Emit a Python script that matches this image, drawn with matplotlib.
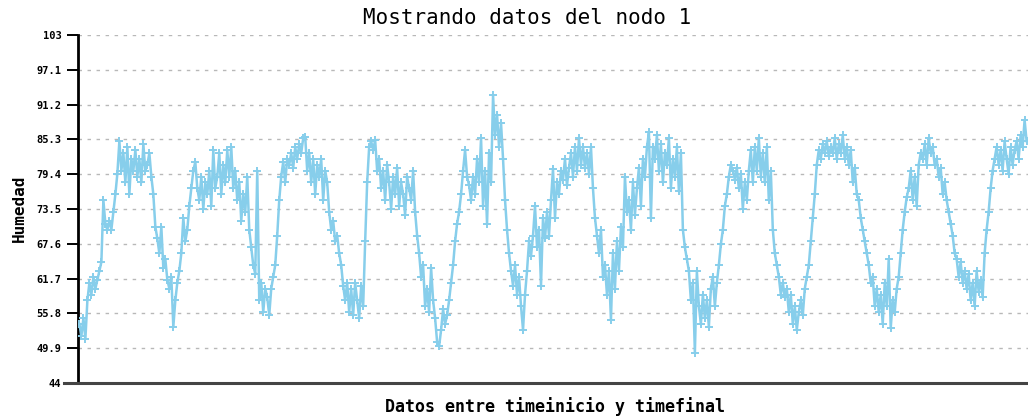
import matplotlib
matplotlib.use("Agg")
import matplotlib.pyplot as plt
import numpy as np

# Humidity readings, in order
seg1 = [54, 52, 55, 51.5, 58, 61, 59, 62, 60, 61.5, 63, 64.5, 75, 71, 70,
        71.5, 70, 73, 76, 79.5, 85, 80, 83, 78, 84, 76, 82, 80, 83.5, 79,
        82, 78, 84.5, 80, 81, 83, 79, 76, 70.5, 68.5, 66, 70.5, 63.5, 65, 61.5,
        60, 62, 53.5, 58, 61, 63, 66, 72, 68, 70]
seg2 = [74, 77, 80, 81.5, 77, 75, 79, 73.5, 78, 76, 80, 74, 83.5, 77, 79,
        83, 76, 81, 78, 83.5, 79, 84, 77, 80, 75, 78, 71.5, 76, 73, 79,
        70, 67, 64, 62.5, 80, 58, 61, 56, 60, 58.5, 55.5, 60, 62, 64, 69]
seg3 = [75, 79, 81.5, 78, 82, 81, 83, 80.5, 84, 82, 84.5, 83, 85.5, 85.7, 80,
        83, 78, 82, 76, 81, 79, 82, 75, 80, 78, 73, 70, 71.5, 68, 69,
        66, 64, 60.5, 58, 61, 56, 60, 55.5, 61, 58, 55, 60.5, 57, 68, 78]
seg4 = [84, 85, 83.5, 85.2, 80, 82, 77, 80, 75, 81, 78, 73.5, 79, 76, 80.5,
        74, 78, 76, 72.5, 79, 77, 75, 80, 73, 69, 66, 62, 64, 57, 60,
        56, 63.5, 58, 55, 51, 50.2, 53, 56.5, 54, 55.5, 58, 61, 64, 68, 71]
seg5 = [73, 76, 80, 83.5, 79, 77.5, 75, 79, 76, 82, 78, 85.5, 74, 80, 71,
        83, 78, 92.8, 86, 89.5, 84, 88, 82, 75, 70, 66, 63, 60.5, 64, 59,
        62, 57, 53, 59, 63, 68, 65.5, 69, 74, 67, 70, 60.5, 72, 68.5, 73]
seg6 = [69, 75, 80.3, 72, 78, 76, 80, 78.5, 82, 77.5, 80.5, 83, 79, 84, 80,
        85.5, 81, 84, 80.5, 83, 79.5, 84, 77, 72, 69, 66, 70, 62, 64, 59,
        63, 54.7, 66, 60, 68, 63, 70.5, 67, 79, 73, 75, 70, 78, 72.5, 77]
seg7 = [80.5, 74, 82, 79, 84, 86.5, 72, 84, 82, 86, 80, 84.5, 78, 83, 81,
        85.5, 77, 82, 79, 84, 76.5, 83, 70, 67, 65, 63, 58, 61, 49.1, 63,
        57, 54, 59, 55, 58, 53.5, 60, 62, 57, 61, 64, 67.5, 70, 74, 76]
seg8 = [79, 81, 80, 78.5, 80.5, 77, 79.5, 73.5, 78, 75, 80, 83.5, 78, 84, 80,
        85.5, 79, 83, 78, 84, 75, 80, 70, 66, 64, 62, 59, 61, 58.5, 60,
        56, 59, 54, 57, 53, 56, 58, 55.5, 60, 62, 64, 68, 72, 76, 81]
seg9 = [83.5, 82, 84.5, 83, 85, 82.5, 84, 83, 85.5, 82, 84.5, 83, 86, 82, 84,
        81, 83.5, 78, 80.5, 76, 75, 72, 70, 68, 66, 64, 61, 62, 57, 60,
        56, 59, 54, 61, 57, 65, 53.3, 58, 56, 60, 62, 66, 70, 73, 75.5]
seg10 = [77, 80, 75, 79, 74, 81, 83, 82, 84.5, 81, 85.5, 83, 84, 81, 82,
         79, 80.5, 76, 78, 75, 73, 71, 69, 66, 65, 62, 64.5, 61, 63, 60,
         62.5, 58, 61, 57, 63, 59.5, 61.5, 58.5, 66, 70, 73, 77, 80, 82, 84]
seg11 = [81, 83.5, 80, 85, 82, 79.5, 84, 81, 83.5, 85, 82, 86, 84, 88.6, 85]

humedad = seg1 + seg2 + seg3 + seg4 + seg5 + seg6 + seg7 + seg8 + seg9 + seg10 + seg11
y_ticks = [44, 49.9, 55.8, 61.7, 67.6, 73.5, 79.4, 85.3, 91.2, 97.1, 103]
y_tick_labels = ["44", "49.9", "55.8", "61.7", "67.6", "73.5", "79.4",
                 "85.3", "91.2", "97.1", "103"]

W, H = 1028, 418
fig = plt.figure(figsize=(W / 100, H / 100), dpi=100)
ax = fig.add_axes([78 / W, 1 - 383 / H, 1 - 78 / W, (383 - 35) / H])

x = np.arange(len(humedad))
ax.plot(x, humedad, color="#87CEEB", linewidth=1.8, marker="+",
        markersize=5.5, markeredgewidth=1.4, zorder=3)

ax.set_xlim(-0.7, len(humedad) - 0.3)
ax.set_ylim(44, 103)
ax.set_yticks(y_ticks)
ax.set_yticklabels(y_tick_labels, fontfamily="DejaVu Sans Mono",
                   fontweight="bold", fontsize=7.5)
ax.set_xticks([])
ax.tick_params(axis="y", direction="out", length=8, width=1.4, pad=4, color="black")

for t in y_ticks:
    ax.axhline(t, color="#b8b8b8", linewidth=1.0, linestyle=(0, (2.5, 4)), zorder=1)

for s in ["top", "right"]:
    ax.spines[s].set_visible(False)
ax.spines["left"].set_linewidth(2)
ax.spines["left"].set_color("black")
ax.spines["bottom"].set_visible(False)
# bottom axis line (extends slightly left of the y axis, as in the reference)
ax.plot([-0.015, 1.0], [0, 0], transform=ax.transAxes, color="#444444",
        linewidth=2.2, clip_on=False, zorder=4)

fig.text(527 / W, 1 - 18 / H, "Mostrando datos del nodo 1", ha="center", va="center",
         fontfamily="DejaVu Sans Mono", fontsize=15)
fig.text(555 / W, 1 - 407 / H, "Datos entre timeinicio y timefinal", ha="center",
         va="center", fontfamily="DejaVu Sans Mono", fontweight="bold", fontsize=12)
fig.text(19 / W, 1 - 208 / H, "Humedad", ha="center", va="center", rotation=90,
         fontfamily="DejaVu Sans Mono", fontweight="bold", fontsize=11.5)

fig.savefig("out.png", dpi=100)
